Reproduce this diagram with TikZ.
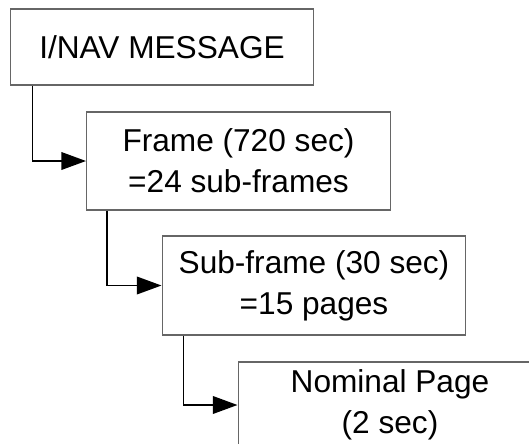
\documentclass[tikz,border=0pt]{standalone}
\usepackage{fontspec}
\setmainfont{Liberation Sans}
\usetikzlibrary{arrows.meta}

\begin{document}
\begin{tikzpicture}[x=0.02cm, y=-0.02cm,
		level/.style={draw=black!60, line width=0.6pt, minimum width=6.08cm, inner sep=0pt, align=center, font=\fontsize{18}{23.4}\selectfont},
		conn/.style={line width=1pt, -{Triangle[length=14pt, width=10pt]}}]
		\clip (0, 0) rectangle (529, 444);
		
		\node[level, minimum height=1.52cm] (msg) at (162, 47) {I/NAV MESSAGE};
		\node[level, minimum height=1.96cm] (frame) at (238.5, 161) {Frame (720 sec)\\=24 sub-frames};
		\node[level, minimum height=1.98cm] (subframe) at (314, 285.5) {Sub-frame (30 sec)\\=15 pages};
		\node[level, minimum height=1.72cm] (page) at (390, 405) {Nominal Page\\(2 sec)};
		
		\draw[conn] ([xshift=0.46cm]msg.south west) |- (frame.west);
		\draw[conn] ([xshift=0.42cm]frame.south west) |- (subframe.west);
		\draw[conn] ([xshift=0.44cm]subframe.south west) |- (page.west);
	\end{tikzpicture}
\end{document}
